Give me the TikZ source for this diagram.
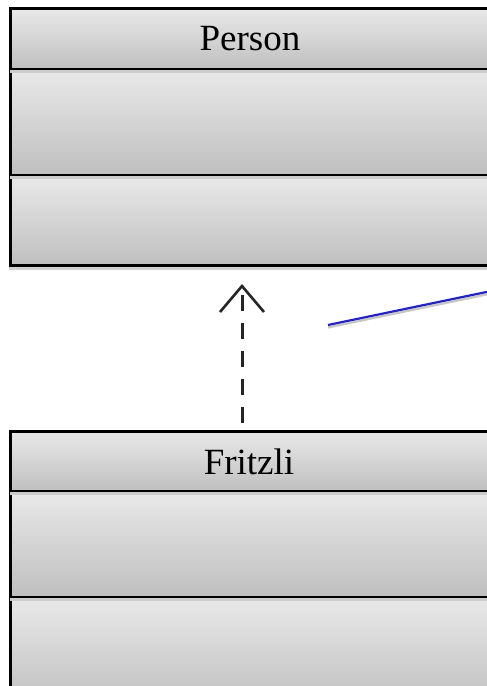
\documentclass[tikz,border=0pt]{standalone}
\usepackage{fontspec}
\setmainfont{Liberation Serif}
\usetikzlibrary{arrows.meta}
\definecolor{secTop}{HTML}{E9E9E9}
\definecolor{secBot}{HTML}{BFBFBF}
\definecolor{assocBlue}{HTML}{2424C0}
\tikzset{
  section/.style={rectangle, draw=black, line width=2.5pt, top color=secTop,
    bottom color=secBot, minimum width=540pt, inner sep=0pt, anchor=north west},
  classname/.style={font=\fontsize{37}{44}\selectfont, inner sep=0pt},
  realization/.style={line width=3pt, color=black!85, dash pattern=on 16pt off 12pt,
    -{Straight Barb[length=26pt, width=44pt, line width=2.6pt]}},
  dropshade/.style={line width=4pt, color=black!18},
  sepshade/.style={line width=3pt, color=black!20},
  assoc/.style={line width=2.2pt, color=assocBlue},
  assocshade/.style={line width=2.2pt, color=black!22},
}
\begin{document}
\begin{tikzpicture}[x=1pt, y=-1pt]
  \useasboundingbox (0,0) rectangle (487,686);
  \clip (0,0) rectangle (487,686);
  \fill[white] (0,0) rectangle (487,686);

  % class Person
  \draw[dropshade] (9,267.5) -- (560,267.5);
  \node[section, minimum height=61pt] (pHead) at (9,7) {};
  \node[classname] (pName) at (250,39) {Person};
  \node[section, minimum height=106pt] (pAttr) at (9,68) {};
  \node[section, minimum height=90pt] (pOps) at (9,174) {};
  \draw[sepshade] ([yshift=-3pt]pAttr.north west) ++(1.25,0) -- ++(560,0);
  \draw[sepshade] ([yshift=-3pt]pOps.north west) ++(1.25,0) -- ++(560,0);

  % class Fritzli
  \node[section, minimum height=60pt] (fHead) at (9,430) {};
  \node[classname] (fName) at (249,462) {Fritzli};
  \node[section, minimum height=106pt] (fAttr) at (9,490) {};
  \node[section, minimum height=110pt] (fOps) at (9,596) {};
  \draw[sepshade] ([yshift=-3pt]fAttr.north west) ++(1.25,0) -- ++(560,0);
  \draw[sepshade] ([yshift=-3pt]fOps.north west) ++(1.25,0) -- ++(560,0);

  % realization Fritzli -> Person
  \coordinate (fTop) at (242,430);
  \coordinate (pBot) at (242,265);
  \draw[realization, shorten <=7pt, shorten >=19pt] (fTop) -- (pBot);

  % association line leaving to the right
  \coordinate (aStart) at (328,325);
  \coordinate (aEnd) at (520,285);
  \draw[assocshade] ([yshift=-2.5pt]aStart) -- ([yshift=-2.5pt]aEnd);
  \draw[assoc] (aStart) -- (aEnd);
\end{tikzpicture}
\end{document}
